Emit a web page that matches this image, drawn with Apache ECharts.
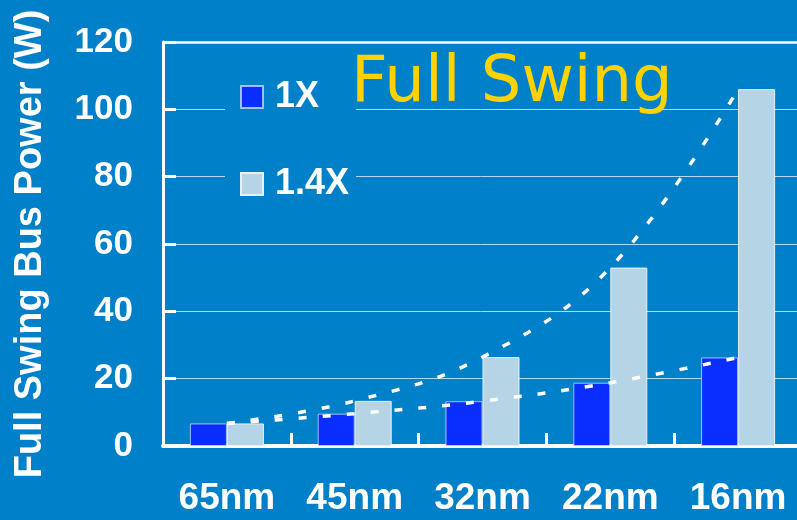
<!DOCTYPE html>
<html>
<head>
<meta charset="utf-8">
<script src="https://cdn.jsdelivr.net/npm/echarts@6/dist/echarts.min.js"></script>
<style>
  html, body { margin: 0; padding: 0; background: #0080C8; }
  #chart { width: 797px; height: 520px; }
</style>
</head>
<body>
<div id="chart"></div>
<script>
// process nodes and bus power (W)
const categories = ["65nm", "45nm", "32nm", "22nm", "16nm"];
const power1x = [6.7, 9.6, 13.3, 18.8, 26.3];
const power14x = [6.7, 13.4, 26.4, 53, 106];
const yTicks = [0, 20, 40, 60, 80, 100, 120];

const chart = echarts.init(document.getElementById("chart"));

const white = "#ffffff";
const labelFont = "'Liberation Sans', Arial, sans-serif";

let option = {
    backgroundColor: "#0080C8",
    animation: false,
    title: {
        text: "Full Swing",
        left: 351,
        top: 52,
        padding: 0,
        textStyle: {
            color: "#FFD200",
            fontFamily: "'DejaVu Sans', Verdana, sans-serif",
            fontWeight: "normal",
            fontSize: 64
        }
    },
    legend: {
        data: ["1X", "1.4X"],
        orient: "vertical",
        left: 225,
        top: 69,
        padding: [10, 7, 10, 15],
        backgroundColor: "#0080C8",
        icon: "rect",
        itemWidth: 22,
        itemHeight: 22,
        itemGap: 51,
        textStyle: {
            color: white,
            fontFamily: labelFont,
            fontWeight: "bold",
            fontSize: 36,
            padding: [0, 0, 0, 7]
        }
    },
    grid: {
        left: 163,
        top: 42,
        width: 639,
        height: 404,
        containLabel: false,
        // v6 otherwise squeezes the grid back inside the window
        outerBoundsMode: "none"
    },
    xAxis: {
        type: "category",
        data: categories,
        axisLine: { show: true, lineStyle: { color: white, width: 4 } },
        axisTick: {
            show: true,
            interval: 0,
            alignWithLabel: false,
            inside: true,
            length: 13,
            lineStyle: { color: white, width: 3 }
        },
        axisLabel: {
            color: white,
            fontFamily: labelFont,
            fontWeight: "bold",
            fontSize: 37,
            margin: 34
        }
    },
    yAxis: {
        type: "value",
        min: yTicks[0],
        max: yTicks[yTicks.length - 1],
        interval: 20,
        name: "Full Swing Bus Power (W)",
        nameLocation: "middle",
        nameGap: 113,
        nameTextStyle: {
            color: white,
            fontFamily: labelFont,
            fontWeight: "bold",
            fontSize: 38
        },
        axisLine: { show: true, lineStyle: { color: white, width: 3 } },
        axisTick: { show: true, inside: true, length: 13, lineStyle: { color: white, width: 3 } },
        axisLabel: {
            color: white,
            fontFamily: labelFont,
            fontWeight: "bold",
            fontSize: 35,
            margin: 30
        },
        splitLine: { lineStyle: { color: "rgba(255,255,255,0.7)", width: 1 } }
    },
    series: [
        {
            name: "1X",
            type: "bar",
            data: power1x,
            barWidth: 37,
            barGap: "0%",
            itemStyle: { color: "#0A2EFF", borderColor: "rgba(200,215,255,0.8)", borderWidth: 1 },
            markLine: {
                silent: true,
                symbol: "none",
                label: { show: false },
                lineStyle: { color: white, width: 2.5, type: "solid" },
                data: [{ yAxis: 120 }]
            }
        },
        {
            name: "1.4X",
            type: "bar",
            data: power14x,
            barWidth: 37,
            itemStyle: { color: "#B5D5E6", borderColor: "#E6F0F6", borderWidth: 1 }
        },
        {
            name: "trend1x",
            type: "line",
            data: power1x,
            smooth: 0.4,
            symbol: "none",
            z: 5,
            lineStyle: { color: white, width: 3.5, type: [8, 16] }
        },
        {
            name: "trend14x",
            type: "line",
            data: power14x,
            smooth: 0.4,
            symbol: "none",
            z: 5,
            lineStyle: { color: white, width: 3.5, type: [8, 16] }
        }
    ]
};

chart.setOption(option);

window.onresize = function(){
    chart.resize();
};
</script>
</body>
</html>
